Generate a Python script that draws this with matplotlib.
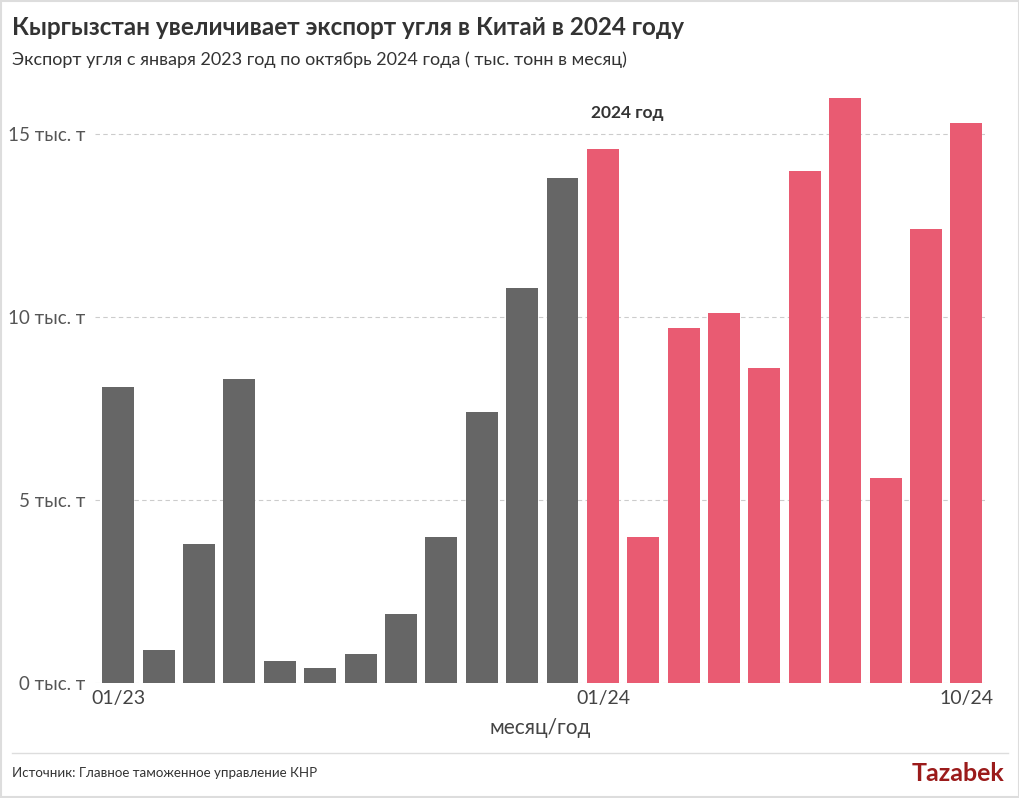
import matplotlib
matplotlib.use("Agg")
import matplotlib.pyplot as plt
from matplotlib.patches import Rectangle
from matplotlib.lines import Line2D

plt.rcParams['font.family'] = ['Lato', 'DejaVu Sans']

# monthly coal export, thousand tonnes
months = ["01/23", "02/23", "03/23", "04/23", "05/23", "06/23", "07/23", "08/23",
          "09/23", "10/23", "11/23", "12/23", "01/24", "02/24", "03/24", "04/24",
          "05/24", "06/24", "07/24", "08/24", "09/24", "10/24"]
values = [8.1, 0.9, 3.8, 8.3, 0.6, 0.4, 0.8, 1.9, 4.0, 7.4, 10.8, 13.8,
          14.6, 4.0, 9.7, 10.1, 8.6, 14.0, 16.0, 5.6, 12.4, 15.3]
years = [2023] * 12 + [2024] * 10
shown_ticks = ["01/23", "01/24", "10/24"]
yticks = [0, 5, 10, 15]

colors = {2023: "#666666", 2024: "#E95B72"}

fig = plt.figure(figsize=(10.2, 7.98), dpi=100)
ax = fig.add_axes([0.093, 0.144, 0.873, 0.737])

x = list(range(len(months)))
ax.bar(x, values, width=0.79, color=[colors[y] for y in years], zorder=2)

ax.set_xlim(-0.58, 21.47)
ax.set_ylim(0, 16.07)
ax.set_yticks(yticks)
ax.set_yticklabels([f"{v} тыс. т" for v in yticks], fontsize=13.5, color="#555555")
ax.set_xticks([months.index(m) for m in shown_ticks])
ax.set_xticklabels(shown_ticks, fontsize=14, color="#444444")
ax.tick_params(axis="y", length=0, pad=7)
ax.tick_params(axis="x", length=0, pad=5)
for s in ax.spines.values():
    s.set_visible(False)
ax.grid(axis="y", color="#cccccc", linestyle=(0, (4, 3)), linewidth=0.8, zorder=0)
ax.set_xlabel("месяц/год", fontsize=15, color="#444444", labelpad=8)

ax.text(12.6, 15.57, "2024 год", ha="center", va="center", fontsize=12.5,
        fontweight="bold", color="#333333")

fig.text(0.012, 0.965, "Кыргызстан увеличивает экспорт угля в Китай в 2024 году",
         fontsize=17.5, fontweight="bold", color="#333333", va="center")
fig.text(0.012, 0.925, "Экспорт угля с января 2023 год по октябрь 2024 года ( тыс. тонн в месяц)",
         fontsize=13, color="#333333", va="center")

fig.add_artist(Line2D([0.012, 0.988], [0.056, 0.056], color="#dddddd", linewidth=1))
fig.text(0.012, 0.031, "Источник: Главное таможенное управление КНР",
         fontsize=9.6, color="#333333", va="center")
fig.text(0.985, 0.031, "Tazabek", fontsize=18, fontweight="bold",
         color="#9B1B1B", va="center", ha="right")

fig.add_artist(Rectangle((0.001, 0.001), 0.998, 0.998, transform=fig.transFigure,
                         fill=False, edgecolor="#dddddd", linewidth=1.5))

fig.savefig("out.png", dpi=100)
